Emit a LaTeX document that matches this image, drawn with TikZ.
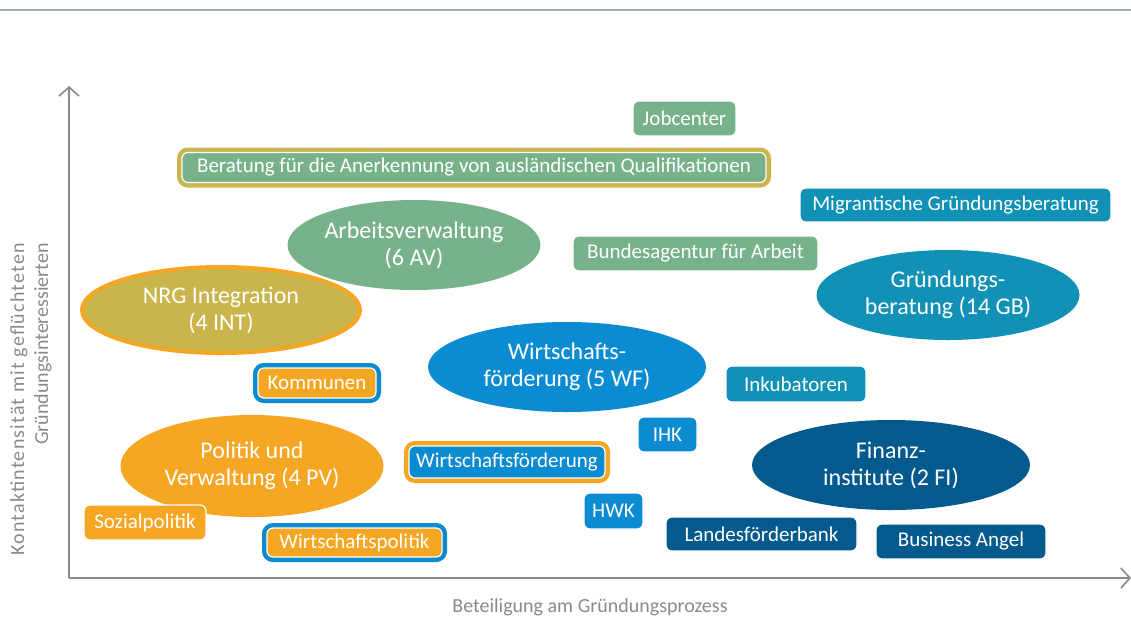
\documentclass[tikz,border=0pt]{standalone}
\usepackage{fontspec}
\setmainfont{Carlito}
\usetikzlibrary{shapes.geometric,arrows.meta}
\definecolor{cgreen}{HTML}{77B28B}
\definecolor{cgold}{HTML}{C9B54C}
\definecolor{corange}{HTML}{F5A623}
\definecolor{cteal}{HTML}{1191B6}
\definecolor{cblue}{HTML}{0B8BD1}
\definecolor{cdark}{HTML}{045A8D}
\definecolor{caxis}{HTML}{8A8A8A}
\definecolor{cline}{HTML}{A3ACBD}
\tikzset{
  box/.style={rectangle, rounded corners=6pt, draw=white, line width=1.2pt,
    text=white, inner sep=0pt, font=\fontsize{21}{24}\selectfont},
  ringed/.style={preaction={draw=#1, line width=10pt}},
  blob/.style={ellipse, inner sep=0pt, text=white, align=center,
    font=\fontsize{24}{27}\selectfont},
  axis/.style={draw=caxis, line width=1.8pt,
    -{Straight Barb[length=9pt,width=20pt,line width=1.6pt]}},
  axlabel/.style={text=caxis, font=\fontsize{20}{24}\selectfont, inner sep=0pt}
}
\begin{document}
\begin{tikzpicture}[x=1pt,y=-1pt]
\useasboundingbox (0,0) rectangle (1131,619);

% rule at the top
\coordinate (tl) at (0,10);
\coordinate (tr) at (1131,10);
\draw[cline, line width=2pt] (tl) -- (tr);

% axes
\coordinate (o) at (69,578);
\coordinate (ytop) at (69,86);
\coordinate (xend) at (1131,578);
\draw[axis] (o) -- (ytop);
\draw[axis] (o) -- (xend);
\node[axlabel, rotate=90, anchor=east] (yl1) at (19,243)
  {\addfontfeature{LetterSpace=6}Kontaktintensität mit geflüchteten};
\node[axlabel, rotate=90, anchor=east] (yl2) at (43,243) {Gründungsinteressierten};
\node[axlabel] (xl) at (590,607) {Beteiligung am Gründungsprozess};

% groups
\node[blob, fill=cgold, draw=corange, line width=4pt, minimum width=278pt, minimum height=86pt]
  (nrg) at (221,310) {NRG Integration\\(4 INT)};
\node[blob, fill=cgreen, minimum width=250pt, minimum height=90pt]
  (av) at (414,245) {Arbeitsverwaltung\\(6 AV)};
\node[blob, fill=cteal, minimum width=263pt, minimum height=90pt]
  (gb) at (948,295) {Gründungs-\\beratung (14 GB)};
\node[blob, fill=cblue, minimum width=278pt, minimum height=90pt]
  (wf) at (567,367) {Wirtschafts-\\förderung (5 WF)};
\node[blob, fill=corange, minimum width=263pt, minimum height=102pt]
  (pv) at (252,466) {Politik und\\Verwaltung (4 PV)};
\node[blob, fill=cdark, minimum width=278pt, minimum height=90pt]
  (fi) at (891,465) {Finanz-\\institute (2 FI)};

% members
\node[box, fill=cgreen, minimum width=103pt, minimum height=35pt] (job) at (684.5,118.5) {Jobcenter};
\node[box, ringed=cgold, fill=cgreen, minimum width=584pt, minimum height=30pt] (ber) at (474,167.5)
  {Beratung für die Anerkennung von ausländischen Qualifikationen};
\node[box, fill=cteal, minimum width=311pt, minimum height=34pt] (mig) at (955.5,205) {Migrantische Gründungsberatung};
\node[box, fill=cgreen, minimum width=245pt, minimum height=35pt] (bund) at (695.5,253.5) {Bundesagentur für Arbeit};
\node[box, ringed=cblue, fill=corange, minimum width=118pt, minimum height=30pt] (kom) at (317,383) {Kommunen};
\node[box, fill=cteal, minimum width=140pt, minimum height=36pt] (ink) at (796,384) {Inkubatoren};
\node[box, fill=cblue, minimum width=59pt, minimum height=35pt] (ihk) at (667.5,434.5) {IHK};
\node[box, ringed=corange, fill=cblue, minimum width=196pt, minimum height=32pt] (wfb) at (507,462) {Wirtschaftsförderung};
\node[box, fill=cblue, minimum width=59pt, minimum height=36pt] (hwk) at (613.5,511) {HWK};
\node[box, fill=corange, minimum width=122pt, minimum height=35pt] (soz) at (145,522.5) {Sozialpolitik};
\node[box, ringed=cblue, fill=corange, minimum width=175pt, minimum height=29pt] (wpol) at (354.5,542.5) {Wirtschaftspolitik};
\node[box, fill=cdark, minimum width=191pt, minimum height=34pt] (lfb) at (761.5,534) {Landesförderbank};
\node[box, fill=cdark, minimum width=170pt, minimum height=35pt] (ba) at (961,541.5) {Business Angel};
\end{tikzpicture}
\end{document}
